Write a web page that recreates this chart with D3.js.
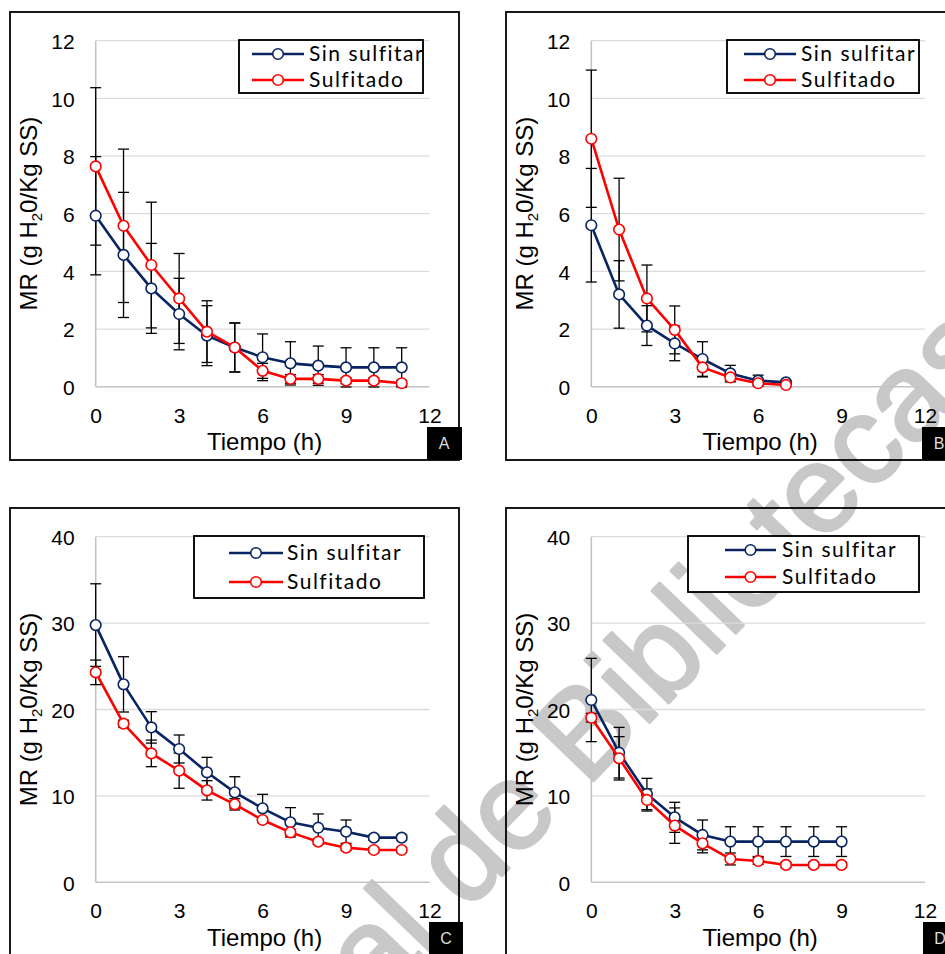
<!DOCTYPE html>
<html>
<head>
<meta charset="utf-8">
<script src="https://cdn.jsdelivr.net/npm/d3@7"></script>
<style>
  html, body { margin: 0; padding: 0; background: #fff; }
  svg { display: block; }
</style>
</head>
<body>
<svg id="chart" width="945" height="954"></svg>
<script>
// Drying curves: moisture ratio (MR) against drying time for four batches, A–D.

const seriesNames = ["Sin sulfitar", "Sulfitado"];
const xTickValues = [0, 3, 6, 9, 12];
const yTicksLow = [0, 2, 4, 6, 8, 10, 12];
const yTicksHigh = [0, 10, 20, 30, 40];
const panelLetters = ["A", "B", "C", "D"];

// Panel A
const hoursA = [0, 1, 2, 3, 4, 5, 6, 7, 8, 9, 10, 11];
const sinSulfitarA = [5.93, 4.57, 3.41, 2.52, 1.77, 1.36, 1.02, 0.81, 0.73, 0.67, 0.67, 0.67];
const sulfitadoA = [7.64, 5.58, 4.22, 3.06, 1.91, 1.36, 0.55, 0.27, 0.27, 0.21, 0.21, 0.12];
const errSinSulfitarA = [2.05, 2.17, 1.56, 1.24, 1.04, 0.85, 0.81, 0.75, 0.68, 0.68, 0.68, 0.68];
const errSulfitadoA = [2.73, 2.66, 2.18, 1.56, 1.07, 0.85, 0.26, 0.15, 0.15, 0.1, 0.1, 0.1];

// Panel B
const hoursB = [0, 1, 2, 3, 4, 5, 6, 7];
const sinSulfitarB = [5.60, 3.20, 2.12, 1.50, 0.96, 0.46, 0.21, 0.15];
const sulfitadoB = [8.60, 5.45, 3.06, 1.97, 0.67, 0.32, 0.12, 0.06];
const errSinSulfitarB = [1.97, 1.17, 0.69, 0.60, 0.60, 0.28, 0.19, 0.05];
const errSulfitadoB = [2.38, 1.78, 1.16, 0.83, 0.33, 0.15, 0.05, 0.03];

// Panel C
const hoursC = [0, 1, 2, 3, 4, 5, 6, 7, 8, 9, 10, 11];
const sinSulfitarC = [29.77, 22.91, 17.93, 15.43, 12.73, 10.41, 8.56, 6.94, 6.32, 5.86, 5.17, 5.17];
const sulfitadoC = [24.30, 18.36, 14.92, 12.92, 10.64, 9.02, 7.21, 5.78, 4.70, 4.01, 3.74, 3.74];
const errSinSulfitarC = [4.78, 3.20, 1.82, 1.62, 1.73, 1.81, 1.62, 1.70, 1.59, 1.35, 0.3, 0.3];
const errSulfitadoC = [1.42, 0.4, 1.54, 2.04, 1.12, 0.65, 0.3, 0.3, 0.3, 0.3, 0.3, 0.3];

// Panel D
const hoursD = [0, 1, 2, 3, 4, 5, 6, 7, 8, 9];
const sinSulfitarD = [21.10, 15.00, 10.22, 7.52, 5.48, 4.71, 4.71, 4.71, 4.71, 4.71];
const sulfitadoD = [19.05, 14.35, 9.53, 6.56, 4.51, 2.70, 2.47, 2.01, 2.01, 2.01];
const errSinSulfitarD = [4.82, 2.93, 1.81, 1.74, 1.73, 1.72, 1.72, 1.72, 1.72, 1.72];
const errSulfitadoD = [0.5, 2.51, 1.28, 2.05, 1.10, 0.69, 0.4, 0.3, 0.3, 0.3];

const colors = ["#082462", "#ff0000"];
const tickFont = "'Liberation Sans', Arial, sans-serif";
const legendFont = "Lato, 'Open Sans', sans-serif";

const svg = d3.select("#chart");
svg.append("rect").attr("width", 945).attr("height", 954).attr("fill", "#fff");

// Library stamp in the background
svg.append("text")
  .attr("transform", "translate(347,1036) rotate(-46)")
  .attr("font-family", tickFont)
  .attr("font-size", 124)
  .attr("fill", "#c8c8c8")
  .attr("stroke", "#c8c8c8")
  .attr("stroke-width", 3)
  .attr("stroke-linejoin", "round")
  .text("ral de Bibliotecas");

const panels = [
  {
    letter: panelLetters[0], hours: hoursA, values: [sinSulfitarA, sulfitadoA], errors: [errSinSulfitarA, errSulfitadoA],
    yTicks: yTicksLow, yMax: 12,
    frame: [10, 12, 459, 460], px: [95.7, 429.5], py: [386.7, 40.7],
    legend: { box: [239, 40, 423, 93], rows: [54, 80], line: [252, 304], text: 309, clip: true },
    tag: [427, 427, 462, 460]
  },
  {
    letter: panelLetters[1], hours: hoursB, values: [sinSulfitarB, sulfitadoB], errors: [errSinSulfitarB, errSulfitadoB],
    yTicks: yTicksLow, yMax: 12,
    frame: [506, 12, 960, 460], px: [591.3, 925], py: [386.7, 40.7],
    legend: { box: [727, 40, 919, 93], rows: [54, 80], line: [744, 796], text: 801, clip: true },
    tag: [922, 427, 960, 460]
  },
  {
    letter: panelLetters[2], hours: hoursC, values: [sinSulfitarC, sulfitadoC], errors: [errSinSulfitarC, errSulfitadoC],
    yTicks: yTicksHigh, yMax: 40,
    frame: [10, 508, 459, 970], px: [95.7, 429.5], py: [882.3, 536.7],
    legend: { box: [194, 536, 424, 598], rows: [553, 582], line: [229, 283], text: 287, clip: false },
    tag: [429, 922, 463, 970]
  },
  {
    letter: panelLetters[3], hours: hoursD, values: [sinSulfitarD, sulfitadoD], errors: [errSinSulfitarD, errSulfitadoD],
    yTicks: yTicksHigh, yMax: 40,
    frame: [506, 508, 960, 970], px: [591.3, 925], py: [882.3, 536.7],
    legend: { box: [688, 536, 919, 592], rows: [550, 577], line: [725, 776], text: 782, clip: false },
    tag: [923, 922, 960, 970]
  }
];

panels.forEach((p, pi) => drawPanel(p, pi));

function drawPanel(p, pi) {
  const g = svg.append("g");
  const x = d3.scaleLinear().domain([0, 12]).range(p.px);
  const y = d3.scaleLinear().domain([0, p.yMax]).range(p.py);

  // outer frame of the panel
  g.append("rect")
    .attr("x", p.frame[0]).attr("y", p.frame[1])
    .attr("width", p.frame[2] - p.frame[0]).attr("height", p.frame[3] - p.frame[1])
    .attr("fill", "none").attr("stroke", "#000").attr("stroke-width", 1.8);

  // horizontal gridlines
  g.append("g").selectAll("line")
    .data(p.yTicks.filter(v => v > 0))
    .join("line")
    .attr("x1", x(0)).attr("x2", x(12))
    .attr("y1", d => y(d)).attr("y2", d => y(d))
    .attr("stroke", "#dcdcdc").attr("stroke-width", 1.3);

  // axis lines
  g.append("line").attr("x1", x(0)).attr("x2", x(0)).attr("y1", y(0)).attr("y2", y(p.yMax))
    .attr("stroke", "#c4c4c4").attr("stroke-width", 1.6);
  g.append("line").attr("x1", x(0)).attr("x2", x(12)).attr("y1", y(0)).attr("y2", y(0))
    .attr("stroke", "#c4c4c4").attr("stroke-width", 1.6);

  // tick labels
  const yAxis = d3.axisLeft(y).tickValues(p.yTicks).tickSize(0).tickPadding(21).tickFormat(d3.format("d"));
  g.append("g").attr("transform", `translate(${x(0)},0)`).call(yAxis)
    .call(s => s.select(".domain").remove())
    .call(s => s.selectAll("text").attr("font-family", tickFont).attr("font-size", 21).attr("fill", "#000").attr("dy", "0.37em"));

  const xAxis = d3.axisBottom(x).tickValues(xTickValues).tickSize(0).tickPadding(21).tickFormat(d3.format("d"));
  g.append("g").attr("transform", `translate(0,${y(0)})`).call(xAxis)
    .call(s => s.select(".domain").remove())
    .call(s => s.selectAll("text").attr("font-family", tickFont).attr("font-size", 21).attr("fill", "#000"));

  // axis titles
  const cx = (p.px[0] + p.px[1]) / 2 + 2;
  g.append("text")
    .attr("x", cx).attr("y", p.py[0] + 63.5)
    .attr("text-anchor", "middle")
    .attr("font-family", tickFont).attr("font-size", 24).attr("fill", "#000")
    .text("Tiempo (h)");

  const cy = (p.py[0] + p.py[1]) / 2;
  const yt = g.append("text")
    .attr("transform", `translate(${p.frame[0] + 27},${cy}) rotate(-90)`)
    .attr("text-anchor", "middle")
    .attr("font-family", tickFont).attr("font-size", 24).attr("fill", "#000");
  yt.append("tspan").text("MR (g H");
  yt.append("tspan").attr("font-size", 15).attr("dy", 5).text("2");
  yt.append("tspan").attr("dy", -5).text("0/Kg SS)");

  // error bars (drawn beneath the markers)
  const cap = 5.5;
  p.values.forEach((vals, si) => {
    const errs = p.errors[si];
    const eg = g.append("g").attr("stroke", "#000").attr("stroke-width", 1.3).attr("fill", "none");
    vals.forEach((v, i) => {
      const xx = x(p.hours[i]);
      const top = y(v + errs[i]);
      const bot = y(v - errs[i]);
      eg.append("line").attr("x1", xx).attr("x2", xx).attr("y1", top).attr("y2", bot);
      eg.append("line").attr("x1", xx - cap).attr("x2", xx + cap).attr("y1", top).attr("y2", top);
      eg.append("line").attr("x1", xx - cap).attr("x2", xx + cap).attr("y1", bot).attr("y2", bot);
    });
  });

  // series lines and hollow markers
  const line = d3.line().x(d => x(d[0])).y(d => y(d[1]));
  p.values.forEach((vals, si) => {
    const pts = vals.map((v, i) => [p.hours[i], v]);
    g.append("path").datum(pts)
      .attr("d", line)
      .attr("fill", "none").attr("stroke", colors[si]).attr("stroke-width", 2.6)
      .attr("stroke-linejoin", "round");
    g.append("g").selectAll("circle").data(pts).join("circle")
      .attr("cx", d => x(d[0])).attr("cy", d => y(d[1])).attr("r", 5.3)
      .attr("fill", "#fff").attr("stroke", colors[si]).attr("stroke-width", 1.6);
  });

  // legend
  const L = p.legend;
  const clipId = "legclip" + pi;
  svg.append("clipPath").attr("id", clipId).append("rect")
    .attr("x", L.box[0]).attr("y", L.box[1]).attr("width", L.box[2] - L.box[0] + 1).attr("height", L.box[3] - L.box[1]);
  const lg = g.append("g");
  lg.append("rect")
    .attr("x", L.box[0]).attr("y", L.box[1])
    .attr("width", L.box[2] - L.box[0]).attr("height", L.box[3] - L.box[1])
    .attr("fill", "#fff").attr("stroke", "#000").attr("stroke-width", 1.5);
  seriesNames.forEach((name, si) => {
    const ry = L.rows[si];
    lg.append("line").attr("x1", L.line[0]).attr("x2", L.line[1]).attr("y1", ry).attr("y2", ry)
      .attr("stroke", colors[si]).attr("stroke-width", 2.6);
    lg.append("circle").attr("cx", (L.line[0] + L.line[1]) / 2).attr("cy", ry).attr("r", 5.3)
      .attr("fill", "#fff").attr("stroke", colors[si]).attr("stroke-width", 1.6);
    const t = lg.append("text")
      .attr("x", L.text).attr("y", ry + 6.5)
      .attr("font-family", legendFont).attr("font-size", 21).attr("letter-spacing", 1.5)
      .attr("fill", "#000").text(name);
    if (L.clip) t.attr("clip-path", `url(#${clipId})`);
  });
  lg.append("rect")
    .attr("x", L.box[0]).attr("y", L.box[1])
    .attr("width", L.box[2] - L.box[0]).attr("height", L.box[3] - L.box[1])
    .attr("fill", "none").attr("stroke", "#000").attr("stroke-width", 1.5);

  // panel letter tag
  const T = p.tag;
  g.append("rect").attr("x", T[0]).attr("y", T[1]).attr("width", T[2] - T[0]).attr("height", T[3] - T[1]).attr("fill", "#000");
  g.append("text")
    .attr("x", T[0] + 17).attr("y", T[1] + 22)
    .attr("text-anchor", "middle")
    .attr("font-family", tickFont).attr("font-size", 16).attr("fill", "#dedede")
    .text(p.letter);
}
</script>
</body>
</html>
